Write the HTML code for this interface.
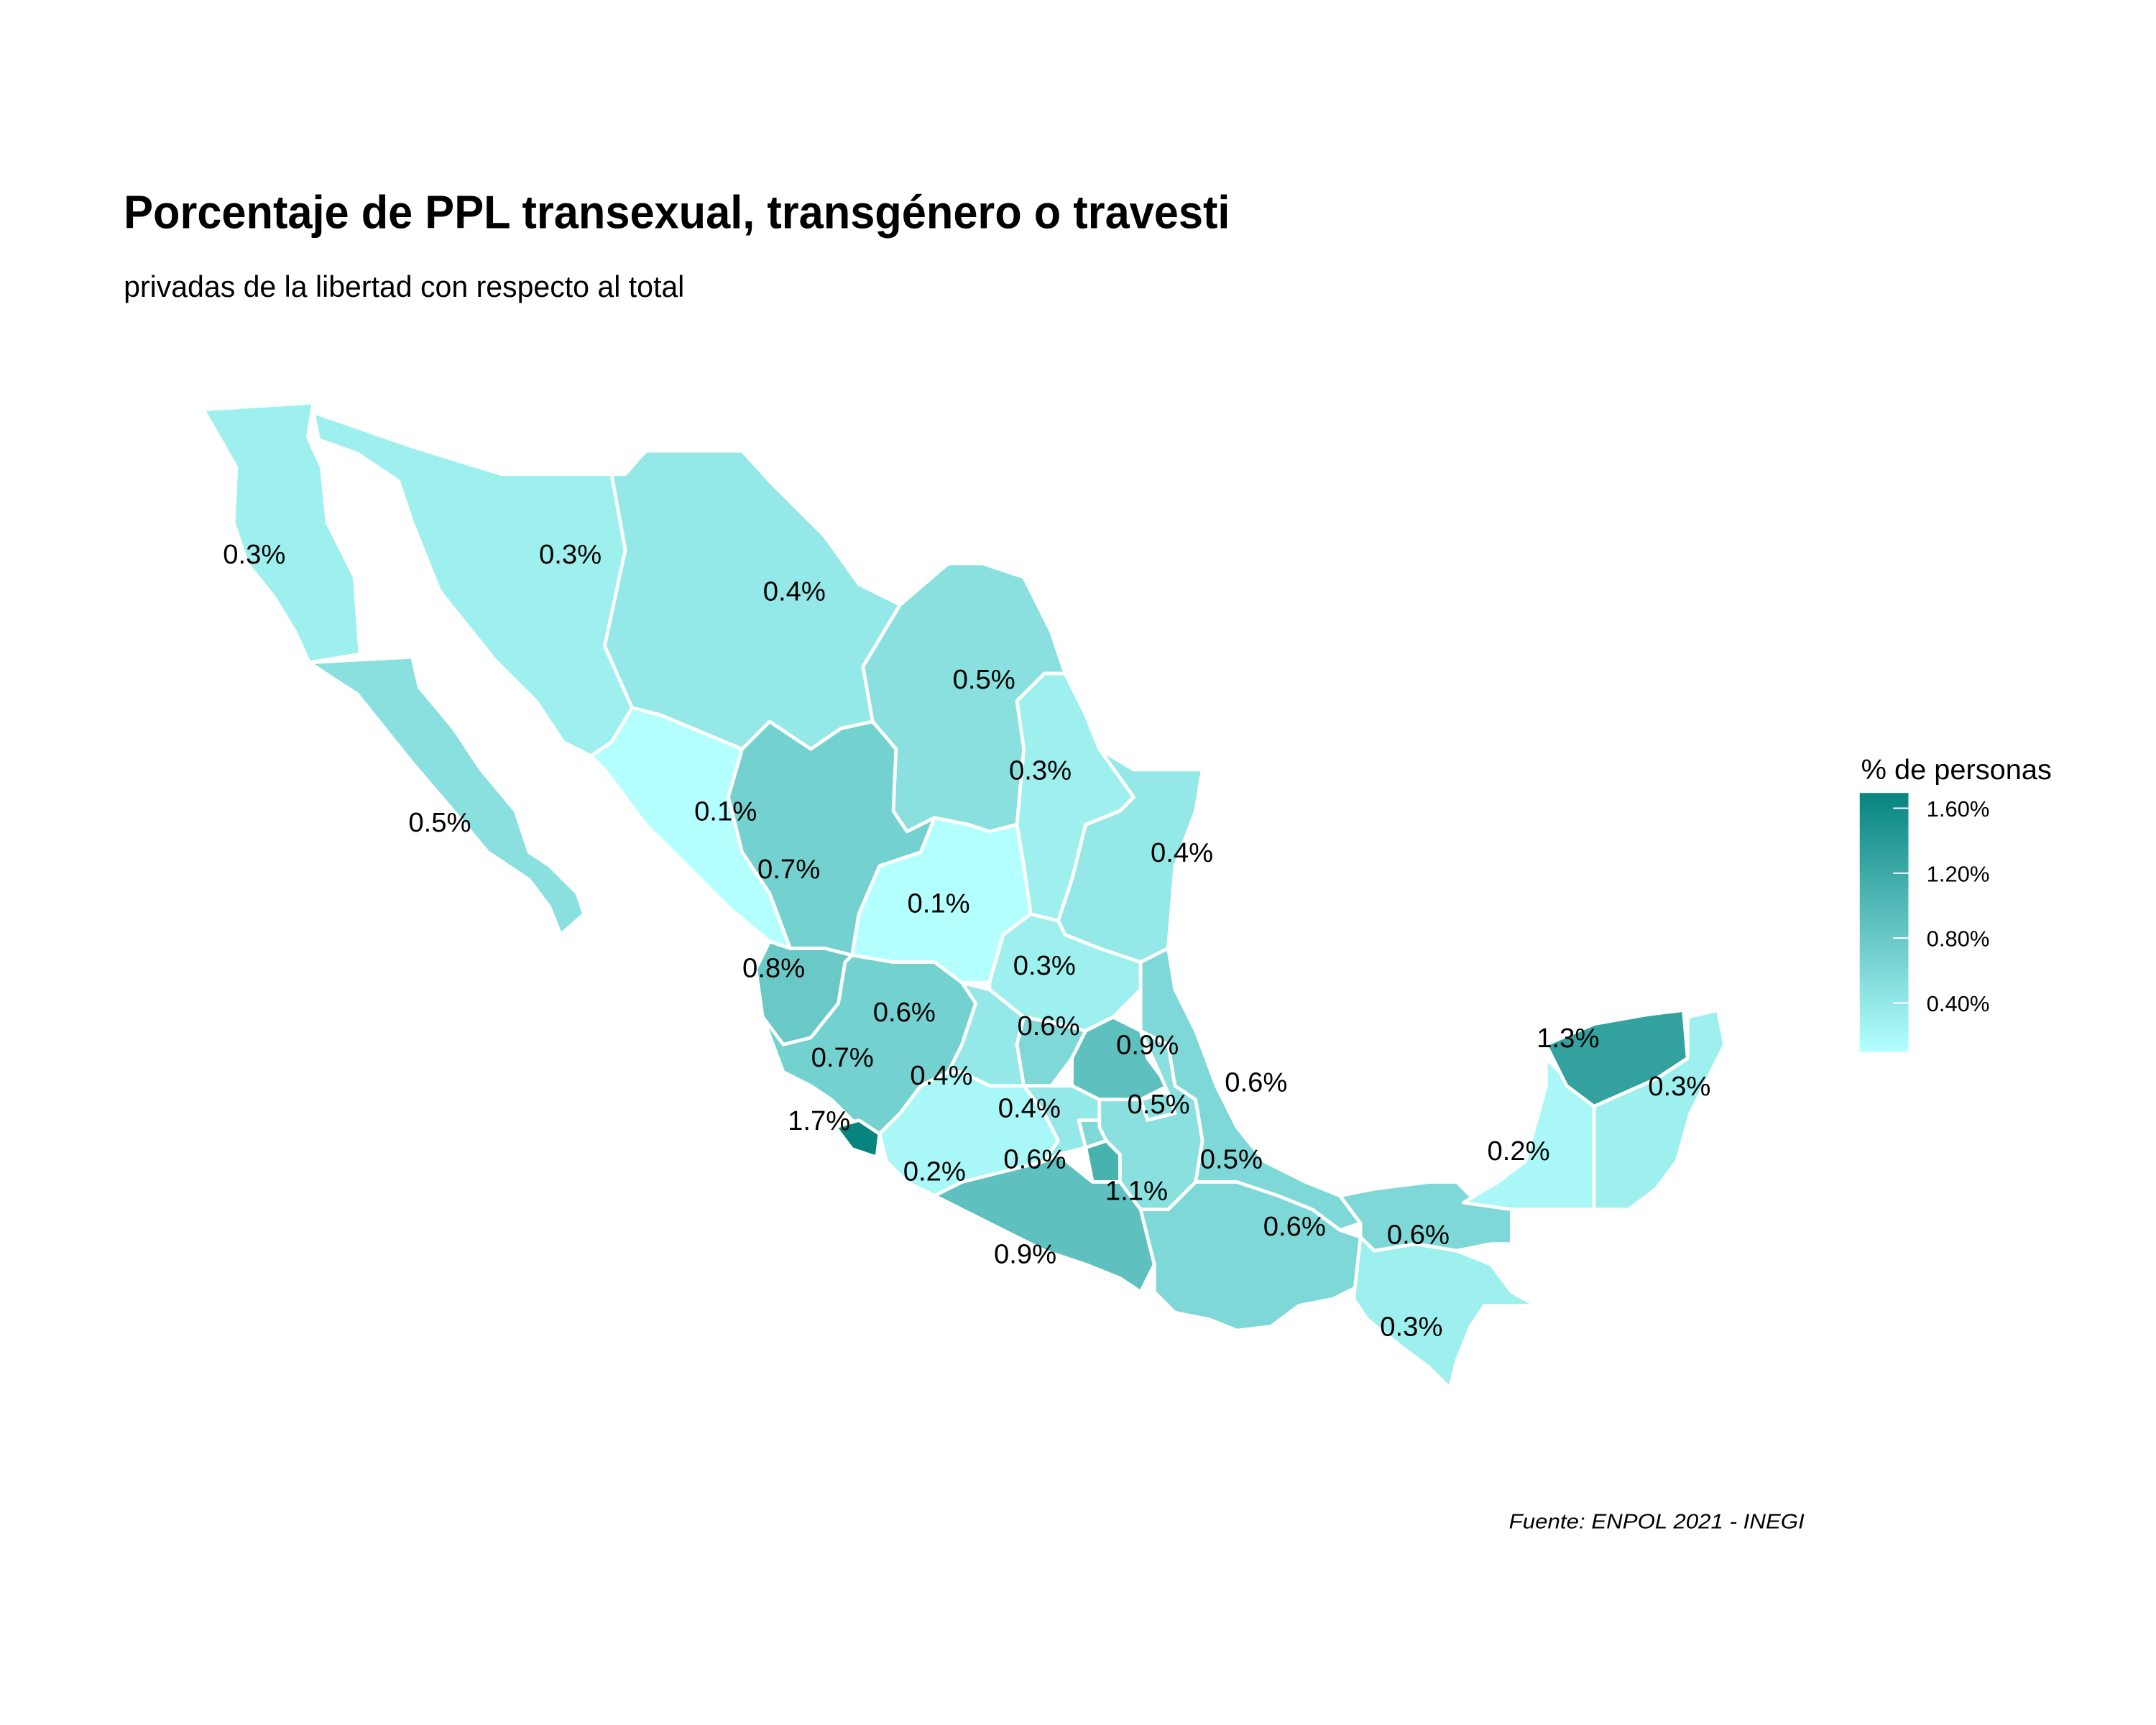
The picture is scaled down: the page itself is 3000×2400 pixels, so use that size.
<!DOCTYPE html>
<html><head><meta charset="utf-8"><style>
html,body{margin:0;padding:0;background:#fff;}
svg{display:block;}
text{font-family:"Liberation Sans",sans-serif;}
</style></head><body>
<svg id="chart" width="3000" height="2400" viewBox="0 0 1550 1240" xmlns="http://www.w3.org/2000/svg">
<defs>
<linearGradient id="lg" x1="0" y1="1" x2="0" y2="0">
<stop offset="0" stop-color="#b4ffff"/><stop offset="1" stop-color="#088480"/>
</linearGradient>
</defs>
<rect width="1550" height="1240" fill="#fff"/>
<g transform="scale(0.988)">
<text x="90" y="166" font-size="34" font-weight="bold" textLength="805" lengthAdjust="spacingAndGlyphs">Porcentaje de PPL transexual, transgénero o travesti</text>
<text x="90" y="216" font-size="22" textLength="408" lengthAdjust="spacingAndGlyphs">privadas de la libertad con respecto al total</text>
<g id="map"></g>
<g id="labels"></g>
<text x="1313" y="1112" font-size="15" font-style="italic" text-anchor="end" textLength="215" lengthAdjust="spacingAndGlyphs">Fuente: ENPOL 2021 - INEGI</text>
</g>
<g>
<text x="1338" y="560" font-size="20" textLength="137" lengthAdjust="spacingAndGlyphs">% de personas</text>
<rect x="1337" y="570" width="35" height="186" fill="url(#lg)"/>
<g id="legticks"></g>
</g>
</svg>
<script>
const states = ["Baja California","Baja California Sur","Sonora","Chihuahua","Coahuila","Nuevo León","Tamaulipas","Sinaloa","Durango","Zacatecas","San Luis Potosí","Nayarit","Aguascalientes","Jalisco","Colima","Michoacán","Guanajuato","Querétaro","Hidalgo","Estado de México","Ciudad de México","Morelos","Tlaxcala","Puebla","Veracruz","Guerrero","Oaxaca","Chiapas","Tabasco","Campeche","Yucatán","Quintana Roo"];
const values = [0.3,0.5,0.3,0.4,0.5,0.3,0.4,0.1,0.7,0.1,0.3,0.8,0.6,0.7,1.7,0.2,0.4,0.6,0.9,0.4,0.6,1.1,0.5,0.5,0.6,0.9,0.6,0.3,0.6,0.2,1.3,0.3];
const legendTicks = [0.4,0.8,1.2,1.6];
const legendTickLabels = ["0.40%","0.80%","1.20%","1.60%"];
const shapes = [
"148,298 228,293 224,318 234,340 238,380 258,420 262,476 225,482 215,460 200,435 180,410 170,380 172,340",
"225,482 300,478 305,500 330,530 350,560 375,590 385,620 400,630 420,650 425,665 408,680 400,660 385,640 355,620 330,590 300,555 280,530 260,505 240,492",
"228,300 300,325 365,345 445,345 455,400 445,465 440,470 460,515 445,540 430,550 410,540 390,510 360,480 320,430 300,380 290,350 260,330 232,320",
"445,345 455,345 470,328 540,328 560,350 600,390 625,425 655,440 628,485 635,525 612,530 590,545 560,525 540,545 480,520 460,515 440,470 455,400",
"655,440 690,410 715,410 745,420 765,460 775,490 760,490 740,510 745,545 740,600 720,605 705,600 680,595 660,605 650,590 652,545 635,525 628,485",
"760,490 775,490 790,520 800,545 825,560 825,580 815,590 790,600 780,640 770,670 750,665 745,630 740,600 745,545 740,510",
"800,545 825,560 875,560 870,590 855,630 850,690 830,700 800,690 775,680 770,670 780,640 790,600 815,590 825,580",
"460,515 480,520 540,545 530,580 540,620 560,650 575,690 560,685 530,660 500,630 470,600 440,560 430,550 445,540",
"540,545 560,525 590,545 612,530 635,525 652,545 650,590 660,605 680,595 670,620 640,630 625,665 620,695 600,690 575,690 560,650 540,620 530,580",
"680,595 705,600 720,605 740,600 745,630 750,665 730,680 720,715 700,715 680,700 650,700 620,695 625,665 640,630 670,620",
"750,665 770,670 775,680 800,690 830,700 830,720 810,740 790,750 770,745 745,740 720,720 720,715 730,680",
"560,685 575,690 600,690 620,695 615,700 610,730 590,755 570,760 555,740 550,705",
"640,718 660,712 672,728 662,745 645,742",
"555,740 570,760 590,755 610,730 615,700 620,695 650,700 680,700 700,715 710,730 700,760 690,780 670,790 655,810 640,825 620,815 605,800 590,790 570,780",
"608,820 625,815 640,825 638,842 620,836",
"640,825 655,810 670,790 690,780 700,780 720,790 745,790 760,810 770,830 760,845 740,850 700,860 680,870 660,860 645,845",
"700,715 720,720 745,740 740,760 745,790 720,790 700,780 690,780 700,760 710,730",
"745,740 770,745 790,750 780,770 765,790 745,790 740,760",
"790,750 810,740 830,750 835,770 850,790 830,800 800,800 780,790 780,770",
"745,790 765,790 780,790 800,800 800,820 785,815 790,835 770,840 760,845 770,830 760,810",
"785,815 800,815 805,830 790,835",
"790,835 805,830 815,840 815,860 795,860",
"830,800 850,795 855,810 835,815",
"830,750 850,760 855,790 870,800 875,830 870,860 850,880 830,880 815,860 815,840 805,830 800,820 800,800 830,800 835,815 855,810 850,795",
"830,700 850,690 855,720 870,750 885,790 900,820 920,845 950,860 975,870 990,890 975,895 955,880 930,870 900,860 870,860 875,830 870,800 855,790 850,760 830,750 830,720",
"680,870 700,860 740,850 760,845 770,840 795,860 815,860 830,880 840,920 830,940 815,930 790,920 760,910 730,895 700,880",
"830,880 850,880 870,860 900,860 930,870 955,880 975,895 990,900 1000,910 990,935 970,945 945,950 925,965 900,968 880,960 855,955 840,940 840,920",
"990,900 1000,910 1030,905 1060,910 1085,920 1100,940 1118,950 1080,950 1070,965 1060,990 1055,1010 1040,995 1020,980 995,960 985,945",
"975,870 990,890 990,900 1000,910 1030,905 1060,910 1085,905 1100,905 1100,880 1075,875 1060,860 1040,860 1000,865",
"1065,875 1090,860 1110,845 1125,790 1125,770 1160,805 1160,880 1100,880",
"1125,760 1160,745 1200,738 1225,735 1228,770 1205,785 1160,805 1140,790",
"1228,740 1250,735 1255,760 1240,790 1230,810 1220,845 1205,865 1185,880 1160,880 1160,805 1205,785 1228,770"
];
const labelPos = [[185,403],[320,598],[415,403],[578,430],[716,494],[757,560],[860,620],[528,590],[574,632],[683,657],[760,702],[563,704],[658,736],[613,769],[596,815],[680,852],[685,782],[763,746],[835,760],[749,806],[753,843],[827,866],[843,803],[896,843],[914,787],[746,912],[942,892],[1027,965],[1032,898],[1105,837],[1141,755],[1222,790]];
const vmin=0.1, vmax=1.694, barTop=570, barBot=756;
function col(v){
  const t=Math.max(0,Math.min(1,(v-vmin)/(vmax-vmin)));
  const a=[0xb4,0xff,0xff], b=[0x08,0x84,0x80];
  return 'rgb('+a.map((c,i)=>Math.round(c+(b[i]-c)*t)).join(',')+')';
}
function yScale(v){return barBot-(v-vmin)/(vmax-vmin)*(barBot-barTop);}
const NS='http://www.w3.org/2000/svg';
const map=document.getElementById('map'), lab=document.getElementById('labels');
states.forEach((s,i)=>{
  const p=document.createElementNS(NS,'polygon');
  p.setAttribute('points',shapes[i]);
  p.setAttribute('fill',col(values[i]));
  p.setAttribute('stroke','#fff');
  p.setAttribute('stroke-width','2.5');
  p.setAttribute('stroke-linejoin','round');
  
  
  map.appendChild(p);
});
states.forEach((s,i)=>{
  const t=document.createElementNS(NS,'text');
  t.setAttribute('x',labelPos[i][0]);
  t.setAttribute('y',labelPos[i][1]+7);
  t.setAttribute('font-size','20');
  t.setAttribute('text-anchor','middle');
  t.textContent=values[i].toFixed(1)+'%';
  
  
  lab.appendChild(t);
});
const lt=document.getElementById('legticks');
legendTicks.forEach((v,i)=>{
  const y=yScale(v);
  const l=document.createElementNS(NS,'line');
  l.setAttribute('x1',1361);l.setAttribute('x2',1372);l.setAttribute('y1',y);l.setAttribute('y2',y);
  l.setAttribute('stroke','#fff');l.setAttribute('stroke-width','1');
  
  
  lt.appendChild(l);
  const t=document.createElementNS(NS,'text');
  t.setAttribute('x',1385);t.setAttribute('y',y+6);t.setAttribute('font-size','16');
  t.textContent=legendTickLabels[i];
  
  
  lt.appendChild(t);
});
</script>
</body></html>
